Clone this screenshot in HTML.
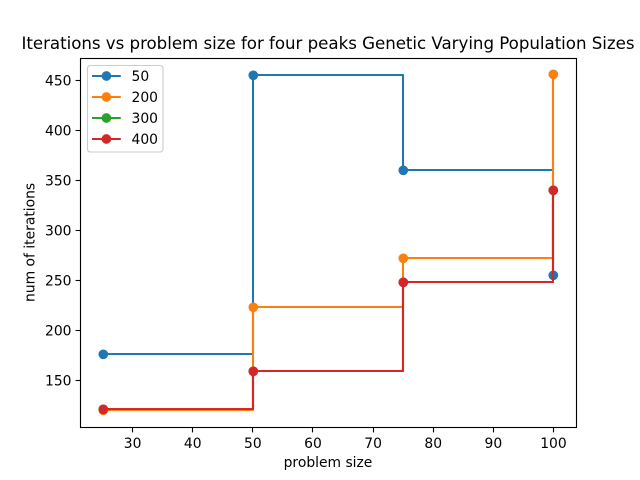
<!DOCTYPE html>
<html>
<head>
<meta charset="utf-8">
<title>Iterations vs problem size</title>
<style>
html,body{margin:0;padding:0;background:#fff;}
svg{display:block;}
text{font-family:"DejaVu Sans","Liberation Sans",sans-serif;fill:#000;}
</style>
</head>
<body>
<svg id="chart" xmlns="http://www.w3.org/2000/svg" width="640" height="480" viewBox="0 0 640 480"></svg>
<script>
const categories = [25, 50, 75, 100];
const seriesNames = ['50', '200', '300', '400'];
const values50 = [176, 455, 360, 255];
const values200 = [120, 223, 272, 456];
const values300 = [121, 159, 248, 340];
const values400 = [121, 159, 248, 340];
const xTickLabels = [30, 40, 50, 60, 70, 80, 90, 100];
const yTickLabels = [150, 200, 250, 300, 350, 400, 450];

const allSeries = [values50, values200, values300, values400];
const colors = ['#1f77b4', '#ff7f0e', '#2ca02c', '#d62728'];
const NS = 'http://www.w3.org/2000/svg';
const svg = document.getElementById('chart');
const plot = {left: 80, right: 576, top: 57.6, bottom: 427.2};

const xMinData = Math.min(...categories), xMaxData = Math.max(...categories);
const flat = allSeries.flat();
const yMinData = Math.min(...flat), yMaxData = Math.max(...flat);
const xPad = (xMaxData - xMinData) * 0.05, yPad = (yMaxData - yMinData) * 0.05;
function xScale(v) {
  return plot.left + (v - (xMinData - xPad)) / (xMaxData - xMinData + 2 * xPad) * (plot.right - plot.left);
}
function yScale(v) {
  return plot.bottom - (v - (yMinData - yPad)) / (yMaxData - yMinData + 2 * yPad) * (plot.bottom - plot.top);
}
function mk(tag, attrs, parent) {
  const el = document.createElementNS(NS, tag);
  for (const k in attrs) el.setAttribute(k, attrs[k]);
  (parent || svg).appendChild(el);
  return el;
}

const background = mk('rect', {x: 0, y: 0, width: 640, height: 480, fill: '#fff'});



// series
allSeries.forEach(function (vals, s) {
  const g = mk('g', {});
  
  
  let d = 'M' + Math.round(xScale(categories[0])) + ' ' + Math.round(yScale(vals[0]));
  for (let i = 1; i < vals.length; i++) {
    d += 'H' + Math.round(xScale(categories[i])) + 'V' + Math.round(yScale(vals[i]));
  }
  const line = mk('path', {d: d, fill: 'none', stroke: colors[s], 'stroke-width': 2.08, 'stroke-linejoin': 'round'}, g);
  
  
  vals.forEach(function (v, i) {
    const c = mk('circle', {cx: Math.round(xScale(categories[i])) + 0.3, cy: Math.round(yScale(v)) + 0.3, r: 4.86, fill: colors[s]}, g);
    
    
  });
});

// spines
const spines = mk('rect', {x: 80.5, y: 58.5, width: 496, height: 369, fill: 'none', stroke: '#000', 'stroke-width': 1.11});



// x ticks
xTickLabels.forEach(function (v) {
  const x = Math.floor(xScale(v)) + 0.5;
  const t = mk('line', {x1: x, x2: x, y1: 427.5, y2: 432.4, stroke: '#000', 'stroke-width': 1.11});
  
  
  const l = mk('text', {x: xScale(v), y: 448, 'font-size': 13.89, 'text-anchor': 'middle'});
  l.textContent = v;
  
  
});

// y ticks
yTickLabels.forEach(function (v) {
  const y = Math.floor(yScale(v)) + 0.5;
  const t = mk('line', {x1: 75.6, x2: 80.5, y1: y, y2: y, stroke: '#000', 'stroke-width': 1.11});
  
  
  const l = mk('text', {x: 71.5, y: yScale(v) + 5, 'font-size': 13.89, 'text-anchor': 'end'});
  l.textContent = v;
  
  
});

// titles
const title = mk('text', {x: 328, y: 49, 'font-size': 16.67, 'text-anchor': 'middle', textLength: 613, lengthAdjust: 'spacing'});
title.textContent = 'Iterations vs problem size for four peaks Genetic Varying Population Sizes';



const xTitle = mk('text', {x: 328, y: 467, 'font-size': 13.89, 'text-anchor': 'middle'});
xTitle.textContent = 'problem size';



const yTitle = mk('text', {x: 0, y: 0, 'font-size': 13.89, 'text-anchor': 'middle', transform: 'translate(34.5 242.4) rotate(-90)'});
yTitle.textContent = 'num of iterations';



// legend
const legend = mk('g', {});


const legendBox = mk('rect', {x: 87.5, y: 65.5, width: 75.5, height: 86.5, rx: 2.8, ry: 2.8, fill: '#fff', 'fill-opacity': 0.8, stroke: '#ccc', 'stroke-width': 1.11}, legend);


seriesNames.forEach(function (name, i) {
  const y = 76 + i * 21;
  const entry = mk('g', {}, legend);
  
  
  const hl = mk('line', {x1: 92, x2: 120.8, y1: y, y2: y, stroke: colors[i], 'stroke-width': 2.08}, entry);
  
  
  const hm = mk('circle', {cx: 106.4, cy: y, r: 4.86, fill: colors[i]}, entry);
  
  
  const tx = mk('text', {x: 131.5, y: y + 5, 'font-size': 13.89}, entry);
  tx.textContent = name;
  
  
});
</script>
</body>
</html>
